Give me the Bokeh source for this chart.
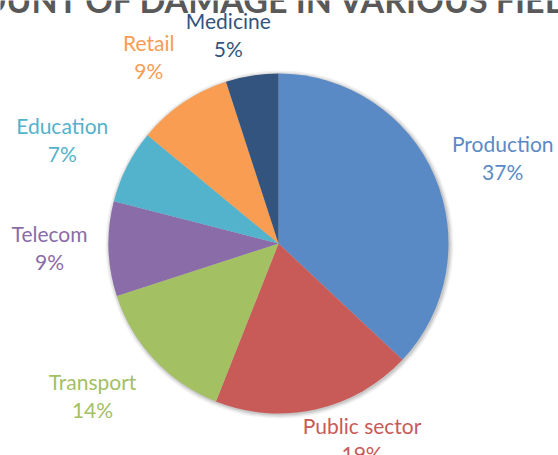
import math
from bokeh.plotting import figure
from bokeh.models import ColumnDataSource, Range1d
from bokeh.core.properties import value
from bokeh.embed import file_html
from bokeh.resources import INLINE

# ---- data ----
title_text = "AMOUNT OF DAMAGE IN VARIOUS FIELDS"
categories = ["Production", "Public sector", "Transport", "Telecom", "Education", "Retail", "Medicine"]
shares = [37, 19, 14, 9, 7, 9, 5]

# ---- style ----
colors = ["#5A8AC6", "#C85B58", "#A3C063", "#8A6CA8", "#53B2CC", "#F89D52", "#33547E"]
label_colors = ["#5A8AC6", "#C85B58", "#A3C063", "#8A6CA8", "#53B2CC", "#F89D52", "#33547E"]
label_dist = [240, 213, 240, 229, 240, 228, 215]     # radial distance of labels (px)
label_nudge = [2.5, -10.5, 4, 0.8, -1.3, -0.5, -4.5]  # angle tweak (deg)

W, H = 558, 455
cx, cy, R = 278, H - 243, 170
FONT = "Lato"

p = figure(width=W, height=H, output_backend="svg", toolbar_location=None, title=None,
           x_range=Range1d(0, W), y_range=Range1d(0, H), min_border=0)
p.axis.visible = False
p.grid.visible = False
p.outline_line_color = None
p.background_fill_color = "white"

total = float(sum(shares))
starts, ends, mids = [], [], []
acc = 0.0
for v in shares:
    a0 = math.pi / 2 - acc / total * 2 * math.pi
    acc += v
    a1 = math.pi / 2 - acc / total * 2 * math.pi
    starts.append(a0)
    ends.append(a1)
    mids.append((a0 + a1) / 2)

# soft shadow
for r, a in [(R + 4, 0.05), (R + 2.5, 0.07), (R + 1, 0.1)]:
    p.circle(x=[cx + 1], y=[cy - 1], radius=r, fill_color="black", fill_alpha=a, line_color=None)

src = ColumnDataSource(dict(cat=categories, share=shares, start=starts, end=ends, color=colors))
p.wedge(x=cx, y=cy, radius=R, start_angle="start", end_angle="end", direction="clock",
        fill_color="color", line_color=None, source=src)

lx, ly1, ly2, names, pcts = [], [], [], [], []
for i, (c, v) in enumerate(zip(categories, shares)):
    ang = mids[i] + math.radians(-label_nudge[i])
    x = cx + label_dist[i] * math.cos(ang)
    y = cy + label_dist[i] * math.sin(ang)
    lx.append(x)
    ly1.append(y + 14)
    ly2.append(y - 14)
    names.append(c)
    pcts.append(f"{v}%")

lsrc = ColumnDataSource(dict(x=lx, y1=ly1, y2=ly2, name=names, pct=pcts, color=label_colors))
p.text(x="x", y="y1", text="name", source=lsrc, text_color="color", text_align="center",
       text_baseline="middle", text_font=value(FONT), text_font_size="21px", text_font_style="normal")
p.text(x="x", y="y2", text="pct", source=lsrc, text_color="color", text_align="center",
       text_baseline="middle", text_font=value(FONT), text_font_size="21px", text_font_style="normal")

# title (cut off by the top edge, as in the reference)
p.text(x=[266], y=[H + 1.5], text=[title_text], text_color="#595959", text_align="center",
       text_baseline="middle", text_font=value(FONT), text_font_size="34px", text_font_style="bold")

open("out.html", "w").write(file_html(p, INLINE))
